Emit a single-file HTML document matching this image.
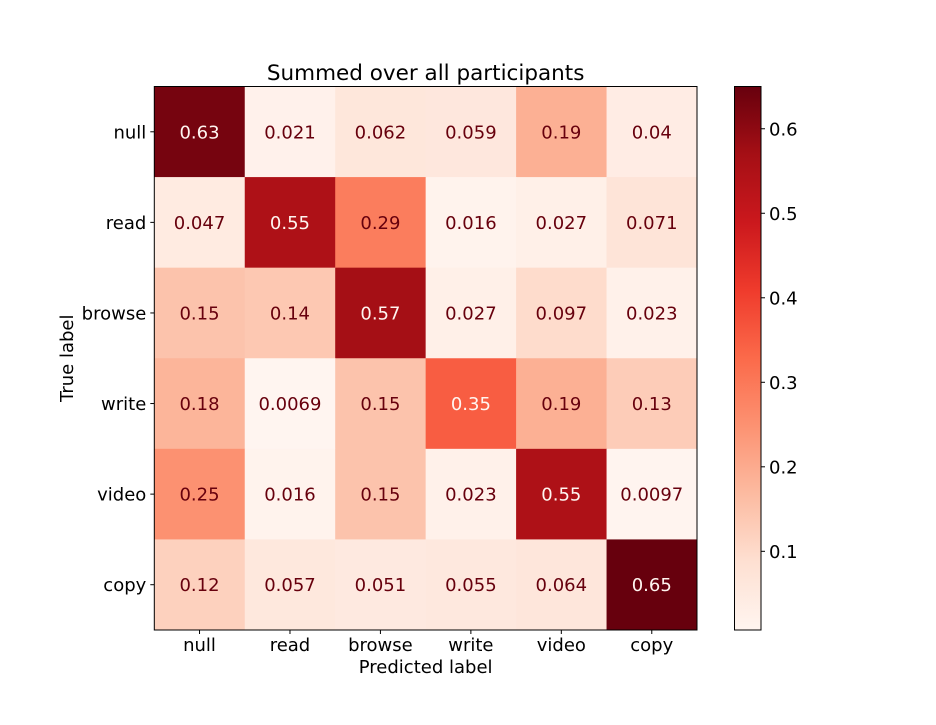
<!DOCTYPE html>
<html><head><meta charset="utf-8"><style>
body{margin:0;background:#fff;}
svg text{font-family:"DejaVu Sans","Liberation Sans",sans-serif;}
</style></head><body>
<svg id="chart" width="936" height="720" xmlns="http://www.w3.org/2000/svg">
<defs><linearGradient id="cbg" x1="0" y1="1" x2="0" y2="0"></linearGradient></defs>
</svg>
<script>
const labels = ["null","read","browse","write","video","copy"];
const row0 = [0.63,0.021,0.062,0.059,0.19,0.04];
const row1 = [0.047,0.55,0.29,0.016,0.027,0.071];
const row2 = [0.15,0.14,0.57,0.027,0.097,0.023];
const row3 = [0.18,0.0069,0.15,0.35,0.19,0.13];
const row4 = [0.25,0.016,0.15,0.023,0.55,0.0097];
const row5 = [0.12,0.057,0.051,0.055,0.064,0.65];
const valueLabels = [
 ["0.63","0.021","0.062","0.059","0.19","0.04"],
 ["0.047","0.55","0.29","0.016","0.027","0.071"],
 ["0.15","0.14","0.57","0.027","0.097","0.023"],
 ["0.18","0.0069","0.15","0.35","0.19","0.13"],
 ["0.25","0.016","0.15","0.023","0.55","0.0097"],
 ["0.12","0.057","0.051","0.055","0.064","0.65"]];
const cbTicks = [0.1,0.2,0.3,0.4,0.5,0.6];
const cbTickLabels = ["0.1","0.2","0.3","0.4","0.5","0.6"];
const rows = [row0,row1,row2,row3,row4,row5];

const NS="http://www.w3.org/2000/svg";
const svg=document.getElementById('chart');
const L=154.3,T=86.5,R=697,B=630;
const cw=(R-L)/labels.length, ch=(B-T)/labels.length;
const all=rows.flat();
const vmin=Math.min(...all), vmax=Math.max(...all);
const reds=["#fff5f0","#fee0d2","#fcbba1","#fc9272","#fb6a4a","#ef3b2c","#cb181d","#a50f15","#67000d"];
function hex(h){return [1,3,5].map(i=>parseInt(h.substr(i,2),16));}
function cmap(t){t=Math.max(0,Math.min(1,t));const p=t*(reds.length-1);const i=Math.min(Math.floor(p),reds.length-2);const f=p-i;
 const a=hex(reds[i]),b=hex(reds[i+1]);return "rgb("+a.map((v,k)=>Math.round(v+(b[k]-v)*f)).join(",")+")";}
function norm(v){return (v-vmin)/(vmax-vmin);}
function mk(tag,attrs,parent){const e=document.createElementNS(NS,tag);for(const k in attrs)e.setAttribute(k,attrs[k]);(parent||svg).appendChild(e);return e;}
function xPos(j){return L+j*cw;}
function yPos(i){return T+i*ch;}
const FS='18';

const title=mk('text',{x:(L+R)/2,y:80,'text-anchor':'middle','font-size':'21.5',fill:'#000'});


title.textContent="Summed over all participants";

const thr=(vmax+vmin)/2;
rows.forEach((row,i)=>{row.forEach((v,j)=>{
 const r=mk('rect',{x:xPos(j),y:yPos(i),width:cw+0.5,height:ch+0.5,fill:cmap(norm(v))});
 
 
 const t=mk('text',{x:xPos(j)+cw/2,y:yPos(i)+ch/2+6.5,'text-anchor':'middle','font-size':FS,fill:v>thr?'#fff5f0':'#67000d'});
 
 
 t.textContent=valueLabels[i][j];
});});
const fr=mk('rect',{x:L,y:T,width:R-L,height:B-T,fill:'none',stroke:'#000','stroke-width':1});



labels.forEach((lab,i)=>{
 const y=yPos(i)+ch/2;
 mk('line',{x1:L-4,x2:L,y1:y,y2:y,stroke:'#000'});
 const t=mk('text',{x:L-8,y:y+6.5,'text-anchor':'end','font-size':FS,fill:'#000'});
 
 
 t.textContent=lab;
 const x=xPos(i)+cw/2;
 mk('line',{x1:x,x2:x,y1:B,y2:B+4,stroke:'#000'});
 const t2=mk('text',{x:x,y:B+21,'text-anchor':'middle','font-size':FS,fill:'#000'});
 
 
 t2.textContent=lab;
});
const xt=mk('text',{x:(L+R)/2,y:673,'text-anchor':'middle','font-size':FS,fill:'#000'});


xt.textContent="Predicted label";
const yt=mk('text',{x:0,y:0,'text-anchor':'middle','font-size':FS,fill:'#000',transform:'translate(73,'+((T+B)/2)+') rotate(-90)'});


yt.textContent="True label";

// colorbar
const CL=734.5,CR=761,CT=86.5,CB=630;
const g=document.getElementById('cbg');
reds.forEach((c,k)=>mk('stop',{offset:(k/(reds.length-1)),'stop-color':c},g));
const cb=mk('rect',{x:CL,y:CT,width:CR-CL,height:CB-CT,fill:'url(#cbg)',stroke:'#000','stroke-width':1});


cbTicks.forEach((v,k)=>{
 const y=CB-norm(v)*(CB-CT);
 mk('line',{x1:CR,x2:CR+4,y1:y,y2:y,stroke:'#000'});
 const t=mk('text',{x:CR+8,y:y+6.5,'font-size':FS,fill:'#000'});
 
 
 t.textContent=cbTickLabels[k];
});
</script>
</body></html>
